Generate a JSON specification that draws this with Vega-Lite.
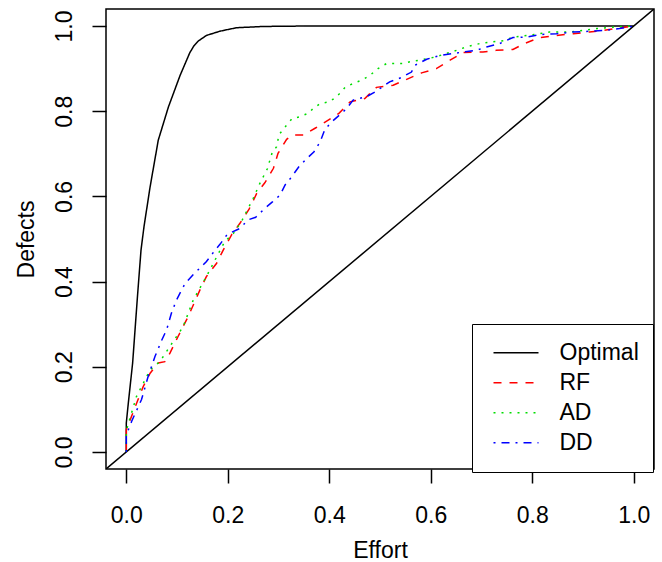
{
  "$schema": "https://vega.github.io/schema/vega-lite/v6.json",
  "width": 548,
  "height": 460,
  "autosize": {"type": "none"},
  "padding": {"left": 106, "top": 9, "right": 8, "bottom": 93},
  "background": "white",
  "config": {
    "view": {"stroke": "black", "strokeWidth": 1.5},
    "font": "Liberation Sans"
  },
  "datasets": {
    "diag": [{"x": -0.04, "y": -0.04}, {"x": 1.04, "y": 1.04}],
    "curves": [
      {"s": "Optimal", "i": 0, "x": 0, "y": 0},
      {"s": "Optimal", "i": 1, "x": 0, "y": 0.068},
      {"s": "Optimal", "i": 2, "x": 0.004, "y": 0.115},
      {"s": "Optimal", "i": 3, "x": 0.0125, "y": 0.209},
      {"s": "Optimal", "i": 4, "x": 0.022, "y": 0.365},
      {"s": "Optimal", "i": 5, "x": 0.029, "y": 0.474},
      {"s": "Optimal", "i": 6, "x": 0.035, "y": 0.53},
      {"s": "Optimal", "i": 7, "x": 0.047, "y": 0.623},
      {"s": "Optimal", "i": 8, "x": 0.063, "y": 0.732},
      {"s": "Optimal", "i": 9, "x": 0.083, "y": 0.81},
      {"s": "Optimal", "i": 10, "x": 0.106, "y": 0.884},
      {"s": "Optimal", "i": 11, "x": 0.125, "y": 0.937},
      {"s": "Optimal", "i": 12, "x": 0.133, "y": 0.953},
      {"s": "Optimal", "i": 13, "x": 0.142, "y": 0.965},
      {"s": "Optimal", "i": 14, "x": 0.158, "y": 0.978},
      {"s": "Optimal", "i": 15, "x": 0.185, "y": 0.988},
      {"s": "Optimal", "i": 16, "x": 0.217, "y": 0.996},
      {"s": "Optimal", "i": 17, "x": 0.27, "y": 0.999},
      {"s": "Optimal", "i": 18, "x": 0.35, "y": 1},
      {"s": "Optimal", "i": 19, "x": 1, "y": 1},

      {"s": "RF", "i": 0, "x": 0, "y": 0},
      {"s": "RF", "i": 1, "x": 0, "y": 0.052},
      {"s": "RF", "i": 2, "x": 0.0205, "y": 0.115},
      {"s": "RF", "i": 3, "x": 0.0335, "y": 0.154},
      {"s": "RF", "i": 4, "x": 0.047, "y": 0.185},
      {"s": "RF", "i": 5, "x": 0.063, "y": 0.209},
      {"s": "RF", "i": 6, "x": 0.076, "y": 0.212},
      {"s": "RF", "i": 7, "x": 0.086, "y": 0.232},
      {"s": "RF", "i": 8, "x": 0.102, "y": 0.271},
      {"s": "RF", "i": 9, "x": 0.122, "y": 0.318},
      {"s": "RF", "i": 10, "x": 0.145, "y": 0.38},
      {"s": "RF", "i": 11, "x": 0.158, "y": 0.412},
      {"s": "RF", "i": 12, "x": 0.178, "y": 0.443},
      {"s": "RF", "i": 13, "x": 0.191, "y": 0.474},
      {"s": "RF", "i": 14, "x": 0.208, "y": 0.511},
      {"s": "RF", "i": 15, "x": 0.224, "y": 0.537},
      {"s": "RF", "i": 16, "x": 0.242, "y": 0.57},
      {"s": "RF", "i": 17, "x": 0.257, "y": 0.607},
      {"s": "RF", "i": 18, "x": 0.273, "y": 0.632},
      {"s": "RF", "i": 19, "x": 0.29, "y": 0.666},
      {"s": "RF", "i": 20, "x": 0.299, "y": 0.701},
      {"s": "RF", "i": 21, "x": 0.316, "y": 0.734},
      {"s": "RF", "i": 22, "x": 0.327, "y": 0.744},
      {"s": "RF", "i": 23, "x": 0.349, "y": 0.744},
      {"s": "RF", "i": 24, "x": 0.372, "y": 0.76},
      {"s": "RF", "i": 25, "x": 0.382, "y": 0.767},
      {"s": "RF", "i": 26, "x": 0.398, "y": 0.779},
      {"s": "RF", "i": 27, "x": 0.419, "y": 0.795},
      {"s": "RF", "i": 28, "x": 0.441, "y": 0.822},
      {"s": "RF", "i": 29, "x": 0.47, "y": 0.83},
      {"s": "RF", "i": 30, "x": 0.493, "y": 0.856},
      {"s": "RF", "i": 31, "x": 0.526, "y": 0.861},
      {"s": "RF", "i": 32, "x": 0.549, "y": 0.873},
      {"s": "RF", "i": 33, "x": 0.582, "y": 0.89},
      {"s": "RF", "i": 34, "x": 0.611, "y": 0.9},
      {"s": "RF", "i": 35, "x": 0.638, "y": 0.92},
      {"s": "RF", "i": 36, "x": 0.664, "y": 0.938},
      {"s": "RF", "i": 37, "x": 0.703, "y": 0.939},
      {"s": "RF", "i": 38, "x": 0.729, "y": 0.943},
      {"s": "RF", "i": 39, "x": 0.762, "y": 0.945},
      {"s": "RF", "i": 40, "x": 0.785, "y": 0.959},
      {"s": "RF", "i": 41, "x": 0.815, "y": 0.973},
      {"s": "RF", "i": 42, "x": 0.848, "y": 0.978},
      {"s": "RF", "i": 43, "x": 0.881, "y": 0.982},
      {"s": "RF", "i": 44, "x": 0.913, "y": 0.986},
      {"s": "RF", "i": 45, "x": 0.94, "y": 0.99},
      {"s": "RF", "i": 46, "x": 0.966, "y": 0.994},
      {"s": "RF", "i": 47, "x": 1, "y": 1},

      {"s": "AD", "i": 0, "x": 0, "y": 0},
      {"s": "AD", "i": 1, "x": 0, "y": 0.05},
      {"s": "AD", "i": 2, "x": 0.02, "y": 0.13},
      {"s": "AD", "i": 3, "x": 0.047, "y": 0.193},
      {"s": "AD", "i": 4, "x": 0.066, "y": 0.212},
      {"s": "AD", "i": 5, "x": 0.086, "y": 0.248},
      {"s": "AD", "i": 6, "x": 0.112, "y": 0.294},
      {"s": "AD", "i": 7, "x": 0.132, "y": 0.357},
      {"s": "AD", "i": 8, "x": 0.158, "y": 0.412},
      {"s": "AD", "i": 9, "x": 0.175, "y": 0.451},
      {"s": "AD", "i": 10, "x": 0.194, "y": 0.494},
      {"s": "AD", "i": 11, "x": 0.211, "y": 0.513},
      {"s": "AD", "i": 12, "x": 0.227, "y": 0.541},
      {"s": "AD", "i": 13, "x": 0.25, "y": 0.595},
      {"s": "AD", "i": 14, "x": 0.263, "y": 0.63},
      {"s": "AD", "i": 15, "x": 0.278, "y": 0.665},
      {"s": "AD", "i": 16, "x": 0.288, "y": 0.705},
      {"s": "AD", "i": 17, "x": 0.296, "y": 0.716},
      {"s": "AD", "i": 18, "x": 0.301, "y": 0.745},
      {"s": "AD", "i": 19, "x": 0.317, "y": 0.769},
      {"s": "AD", "i": 20, "x": 0.327, "y": 0.783},
      {"s": "AD", "i": 21, "x": 0.342, "y": 0.787},
      {"s": "AD", "i": 22, "x": 0.358, "y": 0.795},
      {"s": "AD", "i": 23, "x": 0.368, "y": 0.806},
      {"s": "AD", "i": 24, "x": 0.382, "y": 0.818},
      {"s": "AD", "i": 25, "x": 0.4, "y": 0.822},
      {"s": "AD", "i": 26, "x": 0.412, "y": 0.832},
      {"s": "AD", "i": 27, "x": 0.421, "y": 0.842},
      {"s": "AD", "i": 28, "x": 0.432, "y": 0.857},
      {"s": "AD", "i": 29, "x": 0.447, "y": 0.865},
      {"s": "AD", "i": 30, "x": 0.464, "y": 0.873},
      {"s": "AD", "i": 31, "x": 0.48, "y": 0.884},
      {"s": "AD", "i": 32, "x": 0.496, "y": 0.9},
      {"s": "AD", "i": 33, "x": 0.513, "y": 0.912},
      {"s": "AD", "i": 34, "x": 0.546, "y": 0.912},
      {"s": "AD", "i": 35, "x": 0.562, "y": 0.917},
      {"s": "AD", "i": 36, "x": 0.578, "y": 0.92},
      {"s": "AD", "i": 37, "x": 0.608, "y": 0.927},
      {"s": "AD", "i": 38, "x": 0.624, "y": 0.933},
      {"s": "AD", "i": 39, "x": 0.651, "y": 0.943},
      {"s": "AD", "i": 40, "x": 0.67, "y": 0.951},
      {"s": "AD", "i": 41, "x": 0.697, "y": 0.959},
      {"s": "AD", "i": 42, "x": 0.716, "y": 0.962},
      {"s": "AD", "i": 43, "x": 0.746, "y": 0.966},
      {"s": "AD", "i": 44, "x": 0.762, "y": 0.974},
      {"s": "AD", "i": 45, "x": 0.789, "y": 0.978},
      {"s": "AD", "i": 46, "x": 0.815, "y": 0.982},
      {"s": "AD", "i": 47, "x": 0.834, "y": 0.986},
      {"s": "AD", "i": 48, "x": 0.874, "y": 0.986},
      {"s": "AD", "i": 49, "x": 0.9, "y": 0.99},
      {"s": "AD", "i": 50, "x": 0.927, "y": 0.994},
      {"s": "AD", "i": 51, "x": 0.966, "y": 0.998},
      {"s": "AD", "i": 52, "x": 1, "y": 1},

      {"s": "DD", "i": 0, "x": 0, "y": 0},
      {"s": "DD", "i": 1, "x": 0, "y": 0.04},
      {"s": "DD", "i": 2, "x": 0.0106, "y": 0.072},
      {"s": "DD", "i": 3, "x": 0.03, "y": 0.123},
      {"s": "DD", "i": 4, "x": 0.043, "y": 0.177},
      {"s": "DD", "i": 5, "x": 0.0565, "y": 0.224},
      {"s": "DD", "i": 6, "x": 0.07, "y": 0.263},
      {"s": "DD", "i": 7, "x": 0.0795, "y": 0.287},
      {"s": "DD", "i": 8, "x": 0.089, "y": 0.326},
      {"s": "DD", "i": 9, "x": 0.099, "y": 0.357},
      {"s": "DD", "i": 10, "x": 0.116, "y": 0.396},
      {"s": "DD", "i": 11, "x": 0.135, "y": 0.42},
      {"s": "DD", "i": 12, "x": 0.158, "y": 0.447},
      {"s": "DD", "i": 13, "x": 0.175, "y": 0.474},
      {"s": "DD", "i": 14, "x": 0.185, "y": 0.488},
      {"s": "DD", "i": 15, "x": 0.199, "y": 0.511},
      {"s": "DD", "i": 16, "x": 0.224, "y": 0.525},
      {"s": "DD", "i": 17, "x": 0.24, "y": 0.545},
      {"s": "DD", "i": 18, "x": 0.255, "y": 0.551},
      {"s": "DD", "i": 19, "x": 0.273, "y": 0.572},
      {"s": "DD", "i": 20, "x": 0.288, "y": 0.587},
      {"s": "DD", "i": 21, "x": 0.303, "y": 0.603},
      {"s": "DD", "i": 22, "x": 0.313, "y": 0.627},
      {"s": "DD", "i": 23, "x": 0.326, "y": 0.646},
      {"s": "DD", "i": 24, "x": 0.339, "y": 0.668},
      {"s": "DD", "i": 25, "x": 0.354, "y": 0.687},
      {"s": "DD", "i": 26, "x": 0.37, "y": 0.705},
      {"s": "DD", "i": 27, "x": 0.382, "y": 0.728},
      {"s": "DD", "i": 28, "x": 0.391, "y": 0.756},
      {"s": "DD", "i": 29, "x": 0.403, "y": 0.773},
      {"s": "DD", "i": 30, "x": 0.421, "y": 0.792},
      {"s": "DD", "i": 31, "x": 0.434, "y": 0.806},
      {"s": "DD", "i": 32, "x": 0.447, "y": 0.826},
      {"s": "DD", "i": 33, "x": 0.473, "y": 0.834},
      {"s": "DD", "i": 34, "x": 0.49, "y": 0.845},
      {"s": "DD", "i": 35, "x": 0.519, "y": 0.869},
      {"s": "DD", "i": 36, "x": 0.542, "y": 0.879},
      {"s": "DD", "i": 37, "x": 0.562, "y": 0.892},
      {"s": "DD", "i": 38, "x": 0.569, "y": 0.908},
      {"s": "DD", "i": 39, "x": 0.592, "y": 0.922},
      {"s": "DD", "i": 40, "x": 0.618, "y": 0.931},
      {"s": "DD", "i": 41, "x": 0.641, "y": 0.935},
      {"s": "DD", "i": 42, "x": 0.664, "y": 0.939},
      {"s": "DD", "i": 43, "x": 0.69, "y": 0.943},
      {"s": "DD", "i": 44, "x": 0.71, "y": 0.951},
      {"s": "DD", "i": 45, "x": 0.736, "y": 0.959},
      {"s": "DD", "i": 46, "x": 0.762, "y": 0.973},
      {"s": "DD", "i": 47, "x": 0.789, "y": 0.974},
      {"s": "DD", "i": 48, "x": 0.815, "y": 0.98},
      {"s": "DD", "i": 49, "x": 0.848, "y": 0.982},
      {"s": "DD", "i": 50, "x": 0.881, "y": 0.986},
      {"s": "DD", "i": 51, "x": 0.92, "y": 0.988},
      {"s": "DD", "i": 52, "x": 0.946, "y": 0.99},
      {"s": "DD", "i": 53, "x": 0.972, "y": 0.994},
      {"s": "DD", "i": 54, "x": 1, "y": 1}
    ]
  },
  "encoding": {
    "x": {
      "field": "x", "type": "quantitative",
      "scale": {"domain": [-0.04, 1.04], "nice": false, "zero": false},
      "axis": {
        "values": [0, 0.2, 0.4, 0.6, 0.8, 1.0], "format": ".1f",
        "domain": false, "grid": false,
        "tickColor": "black", "tickSize": 14, "tickWidth": 1.5,
        "labelFont": "Liberation Sans", "labelFontSize": 23, "labelColor": "black",
        "labelBaseline": "alphabetic", "labelPadding": 39, "labelFlush": false, "labelOverlap": false, "labelBound": false,
        "title": "Effort", "titleFont": "Liberation Sans", "titleFontSize": 23, "titleFontWeight": "normal", "titleColor": "black",
        "titleBaseline": "alphabetic", "titleY": 88.5
      }
    },
    "y": {
      "field": "y", "type": "quantitative",
      "scale": {"domain": [-0.04, 1.04], "nice": false, "zero": false},
      "axis": {
        "values": [0, 0.2, 0.4, 0.6, 0.8, 1.0], "format": ".1f",
        "domain": false, "grid": false,
        "tickColor": "black", "tickSize": 14, "tickWidth": 1.5,
        "labelFont": "Liberation Sans", "labelFontSize": 23, "labelColor": "black",
        "labelAngle": -90, "labelAlign": "center", "labelBaseline": "alphabetic", "labelPadding": 21,
        "labelFlush": false, "labelOverlap": false, "labelBound": false,
        "title": "Defects", "titleFont": "Liberation Sans", "titleFontSize": 23, "titleFontWeight": "normal", "titleColor": "black",
        "titleAngle": -90, "titleBaseline": "alphabetic", "titleAlign": "center", "titleX": -72.7, "titleY": 230
      }
    }
  },
  "layer": [
    {
      "data": {"name": "diag"},
      "mark": {"type": "line", "color": "black", "strokeWidth": 1.5, "clip": true},
      "encoding": {}
    },
    {
      "data": {"name": "curves"},
      "mark": {"type": "line", "strokeWidth": 1.5, "clip": true},
      "encoding": {
        "order": {"field": "i", "type": "quantitative"},
        "color": {
          "field": "s", "type": "nominal",
          "scale": {"domain": ["Optimal", "RF", "AD", "DD"], "range": ["black", "#ff0000", "#00dd00", "#0000ff"]},
          "legend": {
            "title": null, "orient": "none", "legendX": 366, "legendY": 315,
            "direction": "vertical",
            "strokeColor": "black", "fillColor": "white", "padding": 14,
            "symbolType": "stroke", "symbolSize": 2025, "symbolStrokeWidth": 1.5,
            "clipHeight": 29.3, "rowPadding": 0, "symbolOffset": 6.5, "labelOffset": 20,
            "labelFont": "Liberation Sans", "labelFontSize": 23, "labelColor": "black", "labelLimit": 300
          }
        },
        "strokeDash": {
          "field": "s", "type": "nominal",
          "scale": {"domain": ["Optimal", "RF", "AD", "DD"], "range": [[1, 0], [8, 8], [2, 6], [2, 6, 8, 6]]},
          "legend": {
            "title": null, "orient": "none", "legendX": 366, "legendY": 315,
            "direction": "vertical",
            "strokeColor": "black", "fillColor": "white", "padding": 14,
            "symbolType": "stroke", "symbolSize": 2025, "symbolStrokeWidth": 1.5,
            "clipHeight": 29.3, "rowPadding": 0, "symbolOffset": 6.5, "labelOffset": 20,
            "labelFont": "Liberation Sans", "labelFontSize": 23, "labelColor": "black", "labelLimit": 300
          }
        }
      }
    }
  ]
}
